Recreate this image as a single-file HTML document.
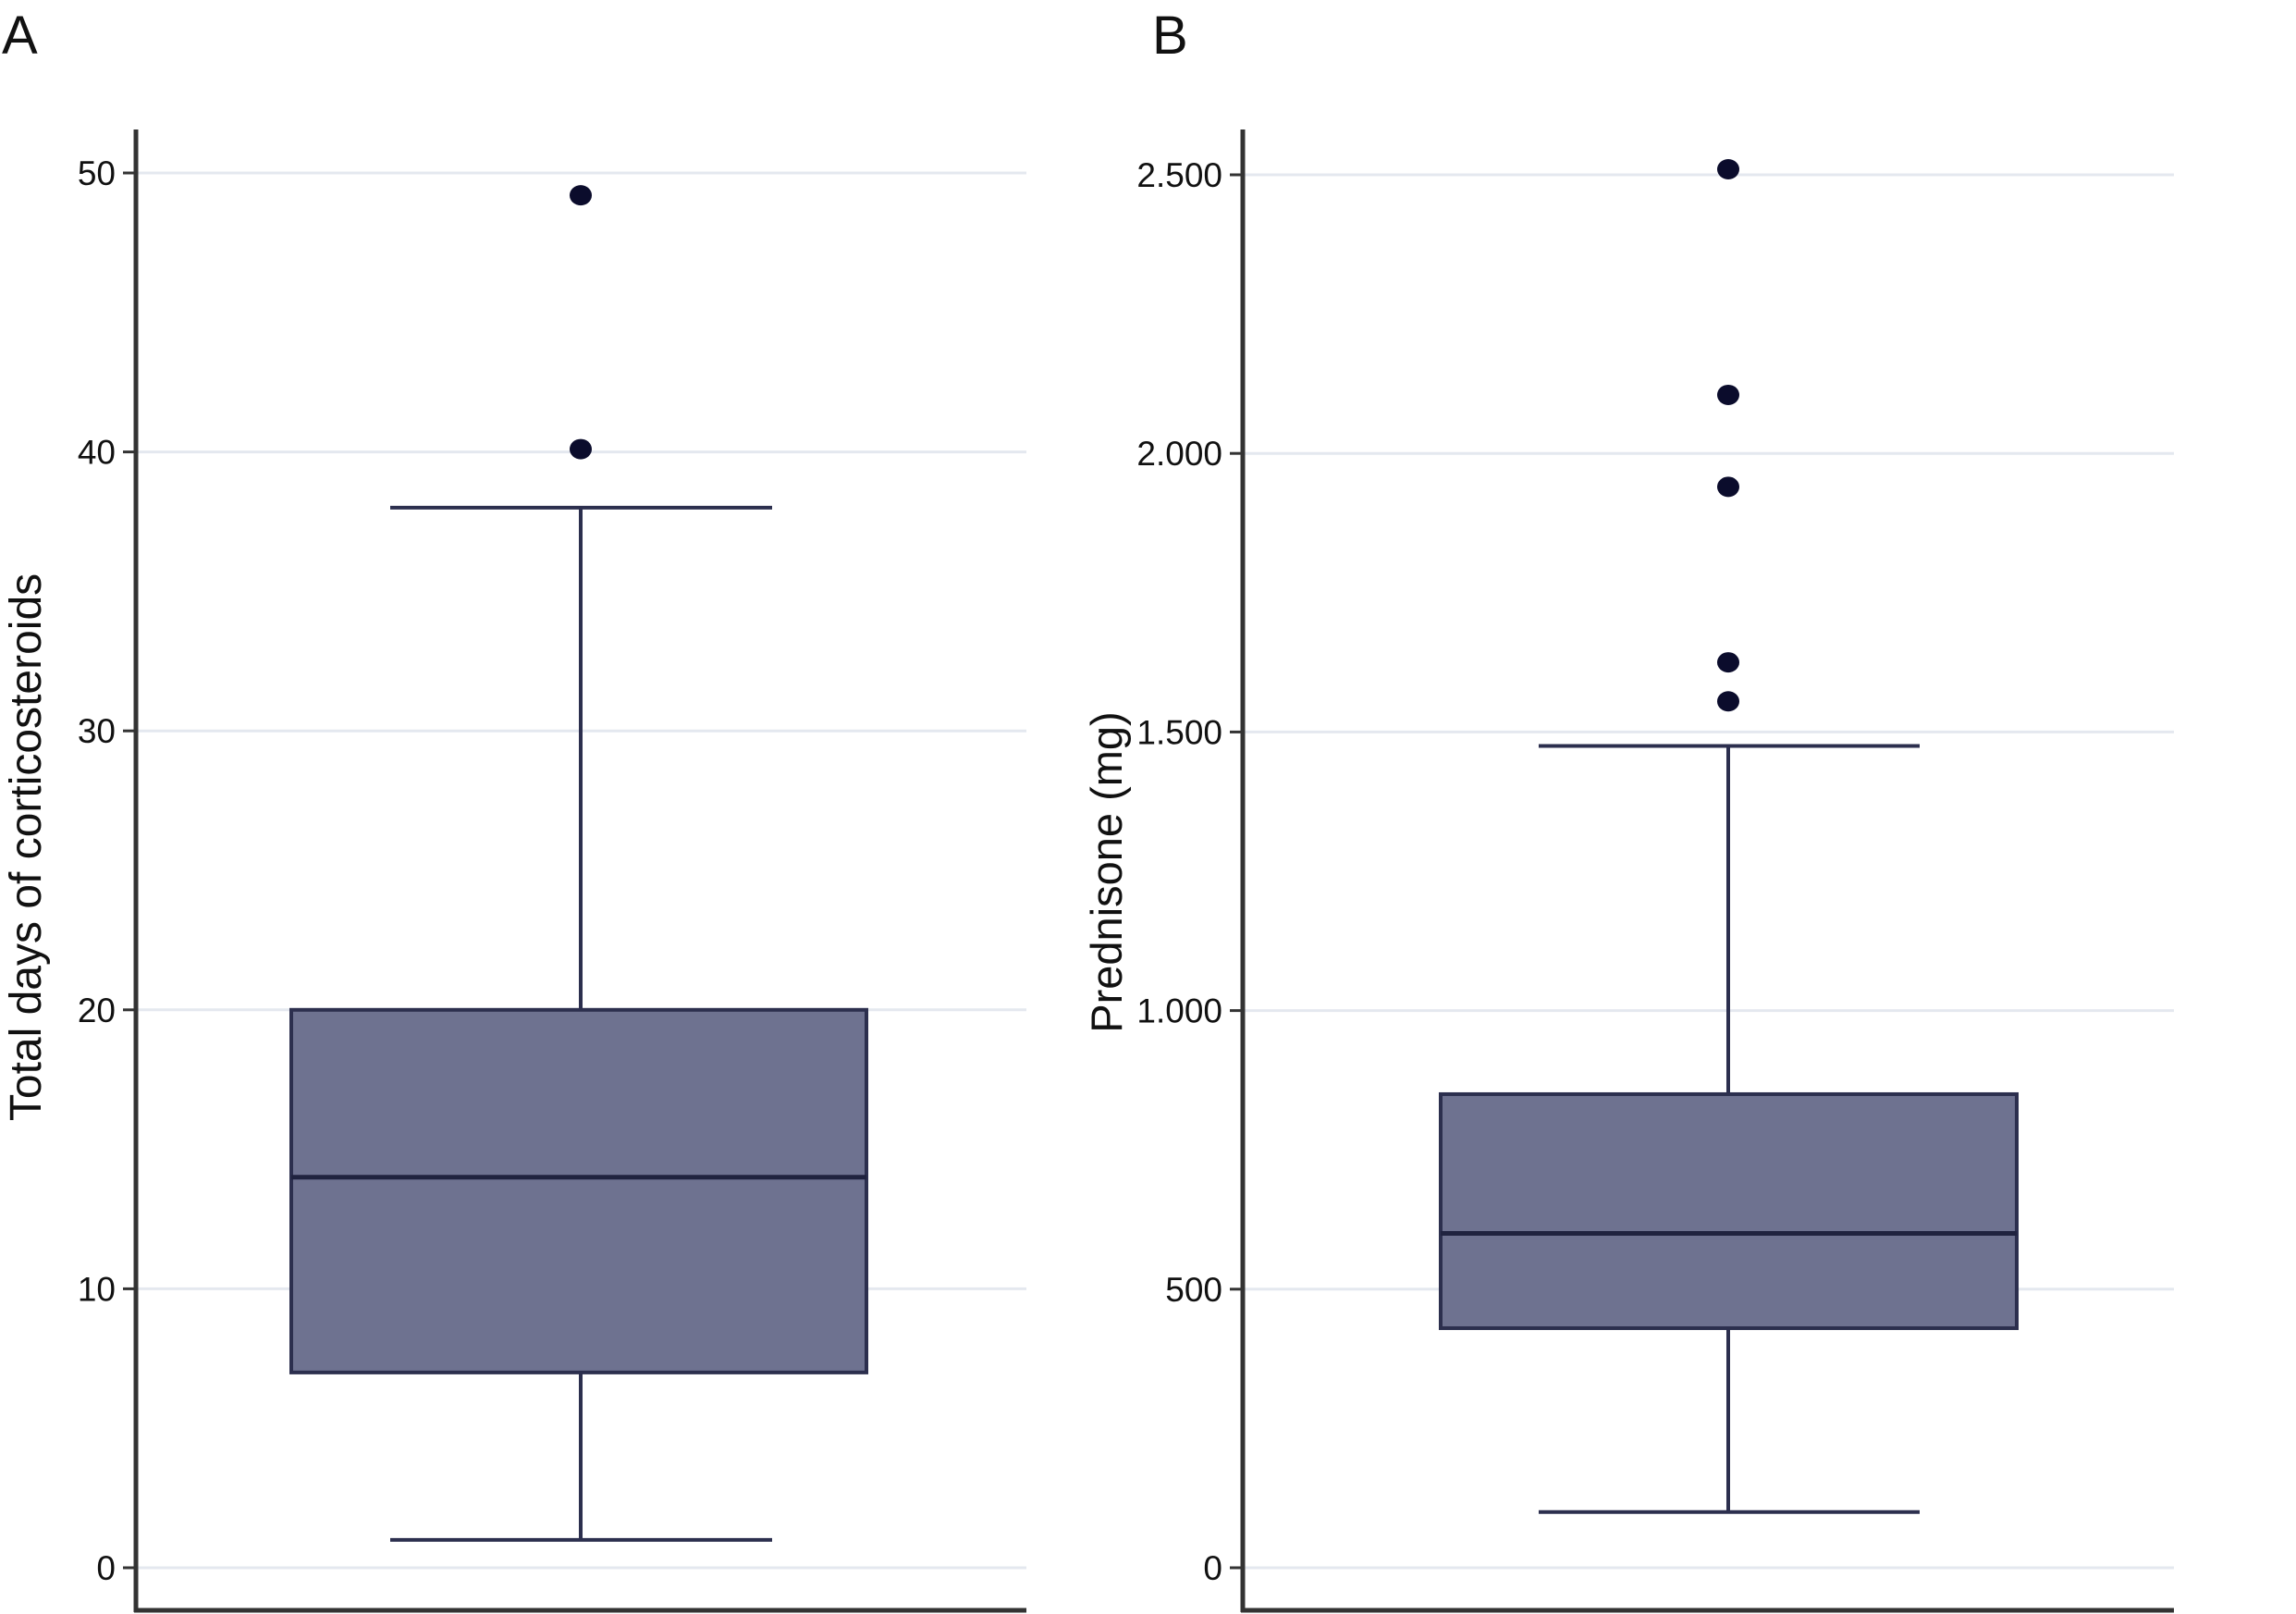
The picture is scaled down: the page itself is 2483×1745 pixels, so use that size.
<!DOCTYPE html>
<html><head><meta charset="utf-8"><style>
html,body{margin:0;padding:0;background:#fff;}
svg{display:block;font-family:"Liberation Sans",sans-serif;}
</style></head><body>
<svg id="fig" width="2483" height="1745" viewBox="0 0 2483 1745">
<text x="2" y="58" font-size="58" fill="#111">A</text>
<text x="1246" y="58" font-size="58" fill="#111">B</text>
<text transform="translate(44,916) rotate(-90)" text-anchor="middle" font-size="48" fill="#111">Total days of corticosteroids</text>
<text transform="translate(1213,943) rotate(-90)" text-anchor="middle" font-size="47" fill="#111">Prednisone (mg)</text>
<g id="pa"></g>
<g id="pb"></g>
</svg>
<script>
const ticksA=[0,10,20,30,40,50];
const tickLabelsA=["0","10","20","30","40","50"];
const statsA=[1,7,14,20,38]; // min whisker, q1, median, q3, max whisker
const outliersA=[40.1,49.2];
const ticksB=[0,500,1000,1500,2000,2500];
const tickLabelsB=["0","500","1.000","1.500","2.000","2.500"];
const statsB=[100,430,600,850,1475];
const outliersB=[1555,1625,1940,2105,2510];

const NS="http://www.w3.org/2000/svg";
function mk(p,t,a){const e=document.createElementNS(NS,t);for(const k in a)e.setAttribute(k,a[k]);p.appendChild(e);return e;}
function panel(g,o,ticks,labels,stats,outs){
  const y=v=>o.y0-(v-o.vmin)/(o.vmax-o.vmin)*(o.y0-o.y1);
  ticks.forEach((t,i)=>{
    const gl=mk(g,'line',{x1:o.ax,x2:o.gx,y1:y(t),y2:y(t),stroke:'#e4e8ef','stroke-width':3});
    
    
    const tk=mk(g,'line',{x1:o.ax-14,x2:o.ax,y1:y(t),y2:y(t),stroke:'#333','stroke-width':3});
    
    
    const tl=mk(g,'text',{x:o.ax-22,y:y(t)+13,'text-anchor':'end','font-size':37,fill:'#111'});
    tl.textContent=labels[i];
    
    
  });
  const ya=mk(g,'line',{x1:o.ax,x2:o.ax,y1:140,y2:1743,stroke:'#333','stroke-width':5});
  
  
  const xa=mk(g,'line',{x1:o.ax-2,x2:o.gx,y1:1741,y2:1741,stroke:'#333','stroke-width':5});
  
  
  const st='#2c2f4e';
  const w1=mk(g,'line',{x1:o.cx,x2:o.cx,y1:y(stats[0]),y2:y(stats[1]),stroke:st,'stroke-width':4});
  
  
  const w2=mk(g,'line',{x1:o.cx,x2:o.cx,y1:y(stats[3]),y2:y(stats[4]),stroke:st,'stroke-width':4});
  
  
  const c1=mk(g,'line',{x1:o.c0,x2:o.c1,y1:y(stats[0]),y2:y(stats[0]),stroke:st,'stroke-width':4});
  
  
  const c2=mk(g,'line',{x1:o.c0,x2:o.c1,y1:y(stats[4]),y2:y(stats[4]),stroke:st,'stroke-width':4});
  
  
  const b=mk(g,'rect',{x:o.b0,width:o.b1-o.b0,y:y(stats[3]),height:y(stats[1])-y(stats[3]),fill:'#6e7290',stroke:st,'stroke-width':4});
  
  
  const m=mk(g,'line',{x1:o.b0,x2:o.b1,y1:y(stats[2]),y2:y(stats[2]),stroke:'#20233f','stroke-width':5});
  
  
  outs.forEach(v=>{
    const c=mk(g,'ellipse',{cx:o.cx,cy:y(v),rx:12,ry:11,fill:'#0b0c2c'});
    
    
  });
}
panel(document.getElementById('pa'),{ax:147,gx:1110,y0:1695,y1:187,vmin:0,vmax:50,cx:628,b0:315,b1:937,c0:422,c1:835},ticksA,tickLabelsA,statsA,outliersA);
panel(document.getElementById('pb'),{ax:1344,gx:2351,y0:1695,y1:189,vmin:0,vmax:2500,cx:1869,b0:1558,b1:2181,c0:1664,c1:2076},ticksB,tickLabelsB,statsB,outliersB);
</script>
</body></html>
